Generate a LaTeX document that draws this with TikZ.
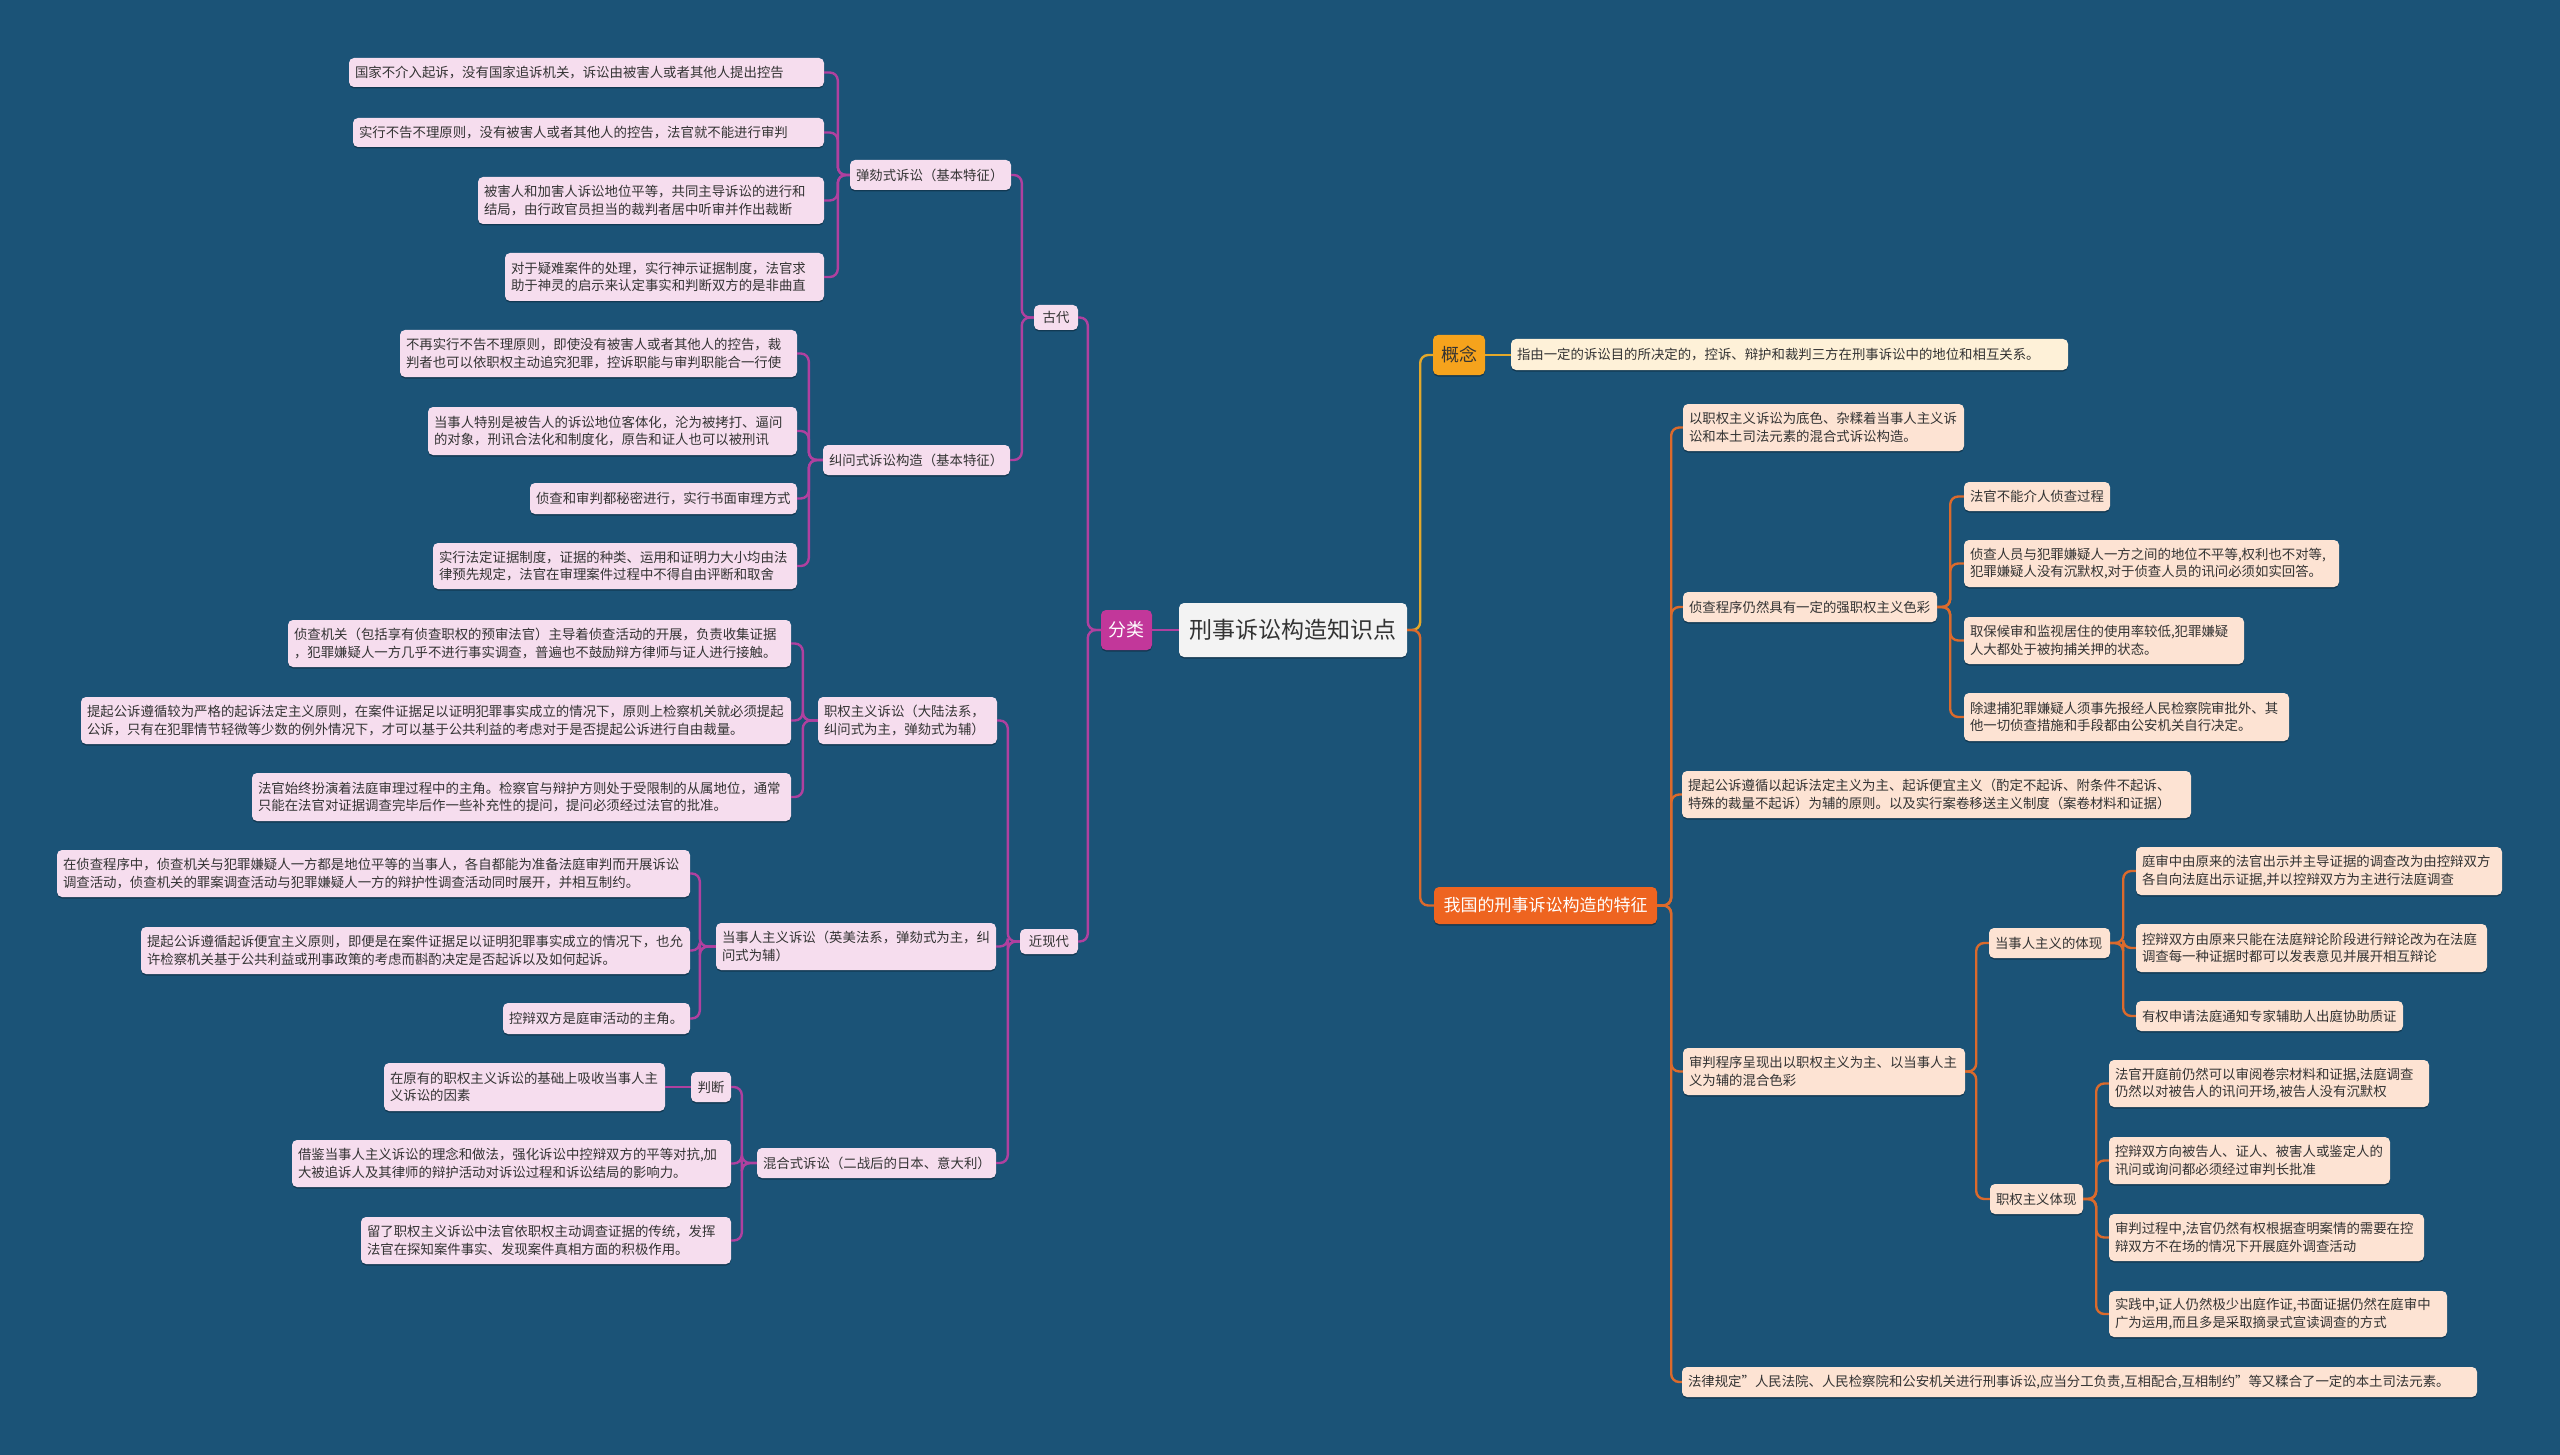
\documentclass[tikz,border=0pt]{standalone}
\usepackage{fontspec}
\setmainfont{Noto Sans CJK SC}
\usetikzlibrary{shadows}
\definecolor{bg}{HTML}{1B5377}
\definecolor{pinkf}{HTML}{F6DDEE}
\definecolor{peach}{HTML}{FDE3D3}
\definecolor{cream}{HTML}{FEF1D8}
\definecolor{centf}{HTML}{F3F3F3}
\definecolor{purp}{HTML}{B0409F}
\definecolor{magf}{HTML}{C2379A}
\definecolor{oran}{HTML}{DB6A2C}
\definecolor{redf}{HTML}{EE6420}
\definecolor{goldl}{HTML}{E4A82A}
\definecolor{goldf}{HTML}{F6A31C}
\definecolor{txt}{HTML}{333333}
\newcommand\mmb[7]{%
  \pgfmathsetmacro\mmw{#4-#2}%
  \pgfmathsetmacro\mmh{#5-#3}%
  \pgfmathsetmacro\mmtw{#4-#2-12}%
  \node[#6, minimum width=\mmw pt, minimum height=\mmh pt, text width=\mmtw pt] (#1) at ({(#2+#4)/2},{(#3+#5)/2}) {#7};}
\newcommand\lk[4]{\draw[#1] (#2.west) -- ++(-#3,0) |- (#4.east);}
\newcommand\rk[4]{\draw[#1] (#2.east) -- ++(#3,0) |- (#4.west);}
\tikzset{
  base/.style={rounded corners=5pt, inner xsep=6pt, inner ysep=1pt, text=txt, align=left,
    font=\fontsize{13.4}{17.5}\selectfont,
    drop shadow={shadow xshift=0pt, shadow yshift=-1.5pt, opacity=.3, fill=black}},
  pk/.style={base, fill=pinkf},
  pc/.style={base, fill=peach},
  cr/.style={base, fill=cream},
  pkc/.style={pk, align=center},
  pcc/.style={pc, align=center},
  clk/.style={draw=purp, line width=2.4pt, rounded corners=8pt},
  crk/.style={draw=oran, line width=2.4pt, rounded corners=8pt},
  cgk/.style={draw=goldl, line width=2.4pt, rounded corners=8pt},
}
\begin{document}
\begin{tikzpicture}[x=1pt,y=-1pt]
\fill[bg] (0,0) rectangle (2560,1455);
\useasboundingbox (0,0) rectangle (2560,1455);
% ---- left side ----
\mmb{A1}{349}{58}{824}{87}{pk}{国家不介入起诉，没有国家追诉机关，诉讼由被害人或者其他人提出控告}
\mmb{A2}{353}{118}{824}{147}{pk}{实行不告不理原则，没有被害人或者其他人的控告，法官就不能进行审判}
\mmb{A3}{478}{177}{824}{224}{pk}{被害人和加害人诉讼地位平等，共同主导诉讼的进行和\\结局，由行政官员担当的裁判者居中听审并作出裁断}
\mmb{A4}{505}{253}{824}{301}{pk}{对于疑难案件的处理，实行神示证据制度，法官求\\助于神灵的启示来认定事实和判断双方的是非曲直}
\mmb{B1}{850}{160}{1011}{190}{pk}{弹劾式诉讼（基本特征）}
\mmb{C1}{400}{330}{797}{377}{pk}{不再实行不告不理原则，即使没有被害人或者其他人的控告，裁\\判者也可以依职权主动追究犯罪，控诉职能与审判职能合一行使}
\mmb{C2}{428}{407}{797}{455}{pk}{当事人特别是被告人的诉讼地位客体化，沦为被拷打、逼问\\的对象，刑讯合法化和制度化，原告和证人也可以被刑讯}
\mmb{C3}{530}{483}{797}{514}{pk}{侦查和审判都秘密进行，实行书面审理方式}
\mmb{C4}{433}{543}{797}{589}{pk}{实行法定证据制度，证据的种类、运用和证明力大小均由法\\律预先规定，法官在审理案件过程中不得自由评断和取舍}
\mmb{B2}{823}{445}{1010}{475}{pk}{纠问式诉讼构造（基本特征）}
\mmb{gd}{1034}{305}{1078}{330}{pkc}{古代}
\mmb{D1}{288}{620}{791}{667}{pk}{侦查机关（包括享有侦查职权的预审法官）主导着侦查活动的开展，负责收集证据\\，犯罪嫌疑人一方几乎不进行事实调查，普遍也不鼓励辩方律师与证人进行接触。}
\mmb{D2}{81}{697}{791}{744}{pk}{提起公诉遵循较为严格的起诉法定主义原则，在案件证据足以证明犯罪事实成立的情况下，原则上检察机关就必须提起\\公诉，只有在犯罪情节轻微等少数的例外情况下，才可以基于公共利益的考虑对于是否提起公诉进行自由裁量。}
\mmb{D3}{252}{773}{791}{821}{pk}{法官始终扮演着法庭审理过程中的主角。检察官与辩护方则处于受限制的从属地位，通常\\只能在法官对证据调查完毕后作一些补充性的提问，提问必须经过法官的批准。}
\mmb{B3}{818}{697}{997}{744}{pk}{职权主义诉讼（大陆法系，\\纠问式为主，弹劾式为辅）}
\mmb{E1}{57}{850}{690}{897}{pk}{在侦查程序中，侦查机关与犯罪嫌疑人一方都是地位平等的当事人，各自都能为准备法庭审判而开展诉讼\\调查活动，侦查机关的罪案调查活动与犯罪嫌疑人一方的辩护性调查活动同时展开，并相互制约。}
\mmb{E2}{141}{927}{690}{974}{pk}{提起公诉遵循起诉便宜主义原则，即便是在案件证据足以证明犯罪事实成立的情况下，也允\\许检察机关基于公共利益或刑事政策的考虑而斟酌决定是否起诉以及如何起诉。}
\mmb{E3}{503}{1003}{690}{1034}{pk}{控辩双方是庭审活动的主角。}
\mmb{B4}{716}{923}{996}{970}{pk}{当事人主义诉讼（英美法系，弹劾式为主，纠\\问式为辅）}
\mmb{F1}{384}{1063}{665}{1111}{pk}{在原有的职权主义诉讼的基础上吸收当事人主\\义诉讼的因素}
\mmb{pd}{691}{1072}{731}{1102}{pkc}{判断}
\mmb{F2}{292}{1140}{731}{1187}{pk}{借鉴当事人主义诉讼的理念和做法，强化诉讼中控辩双方的平等对抗,加\\大被追诉人及其律师的辩护活动对诉讼过程和诉讼结局的影响力。}
\mmb{F3}{361}{1217}{731}{1264}{pk}{留了职权主义诉讼中法官依职权主动调查证据的传统，发挥\\法官在探知案件事实、发现案件真相方面的积极作用。}
\mmb{B5}{757}{1148}{996}{1178}{pk}{混合式诉讼（二战后的日本、意大利）}
\mmb{jxd}{1020}{929}{1078}{954}{pkc}{近现代}
\mmb{fl}{1101}{610}{1152}{650}{base, fill=magf, text=white, align=center, font=\fontsize{18}{22}\selectfont}{分类}
\mmb{ct}{1179}{603}{1407}{657}{base, fill=centf, align=center, font=\fontsize{23}{28}\selectfont}{刑事诉讼构造知识点}
% ---- right side ----
\mmb{gn}{1433}{335}{1485}{375}{base, fill=goldf, align=center, font=\fontsize{18}{22}\selectfont}{概念}
\mmb{gnd}{1511}{339}{2068}{370}{cr}{指由一定的诉讼目的所决定的，控诉、辩护和裁判三方在刑事诉讼中的地位和相互关系。}
\mmb{tz}{1434}{887}{1657}{924}{base, fill=redf, text=white, align=center, font=\fontsize{17}{21}\selectfont}{我国的刑事诉讼构造的特征}
\mmb{R1}{1683}{404}{1964}{451}{pc}{以职权主义诉讼为底色、杂糅着当事人主义诉\\讼和本土司法元素的混合式诉讼构造。}
\mmb{R2}{1683}{592}{1937}{622}{pc}{侦查程序仍然具有一定的强职权主义色彩}
\mmb{G1}{1964}{482}{2110}{511}{pc}{法官不能介人侦查过程}
\mmb{G2}{1964}{540}{2339}{587}{pc}{侦查人员与犯罪嫌疑人一方之间的地位不平等,权利也不对等,\\犯罪嫌疑人没有沉默权,对于侦查人员的讯问必须如实回答。}
\mmb{G3}{1964}{617}{2244}{664}{pc}{取保候审和监视居住的使用率较低,犯罪嫌疑\\人大都处于被拘捕关押的状态。}
\mmb{G4}{1964}{693}{2289}{741}{pc}{除逮捕犯罪嫌疑人须事先报经人民检察院审批外、其\\他一切侦查措施和手段都由公安机关自行决定。}
\mmb{R3}{1682}{771}{2191}{818}{pc}{提起公诉遵循以起诉法定主义为主、起诉便宜主义（酌定不起诉、附条件不起诉、\\特殊的裁量不起诉）为辅的原则。以及实行案卷移送主义制度（案卷材料和证据）}
\mmb{R4}{1683}{1048}{1965}{1095}{pc}{审判程序呈现出以职权主义为主、以当事人主\\义为辅的混合色彩}
\mmb{H}{1989}{928}{2110}{958}{pc}{当事人主义的体现}
\mmb{H1}{2136}{847}{2502}{895}{pc}{庭审中由原来的法官出示并主导证据的调查改为由控辩双方\\各自向法庭出示证据,并以控辩双方为主进行法庭调查}
\mmb{H2}{2136}{924}{2487}{972}{pc}{控辩双方由原来只能在法庭辩论阶段进行辩论改为在法庭\\调查每一种证据时都可以发表意见并展开相互辩论}
\mmb{H3}{2136}{1001}{2403}{1031}{pc}{有权申请法庭通知专家辅助人出庭协助质证}
\mmb{I}{1990}{1184}{2083}{1214}{pc}{职权主义体现}
\mmb{I1}{2109}{1060}{2429}{1107}{pc}{法官开庭前仍然可以审阅卷宗材料和证据,法庭调查\\仍然以对被告人的讯问开场,被告人没有沉默权}
\mmb{I2}{2109}{1137}{2390}{1184}{pc}{控辩双方向被告人、证人、被害人或鉴定人的\\讯问或询问都必须经过审判长批准}
\mmb{I3}{2109}{1214}{2424}{1261}{pc}{审判过程中,法官仍然有权根据查明案情的需要在控\\辩双方不在场的情况下开展庭外调查活动}
\mmb{I4}{2109}{1291}{2447}{1337}{pc}{实践中,证人仍然极少出庭作证,书面证据仍然在庭审中\\广为运用,而且多是采取摘录式宣读调查的方式}
\mmb{R5}{1682}{1367}{2477}{1397}{pc}{法律规定"人民法院、人民检察院和公安机关进行刑事诉讼,应当分工负责,互相配合,互相制约"等又糅合了一定的本土司法元素。}
% ---- connectors left ----
\draw[clk] (fl.east) -- (ct.west);
\lk{clk}{fl}{13}{gd}
\lk{clk}{fl}{13}{jxd}
\lk{clk}{gd}{12}{B1}
\lk{clk}{gd}{12}{B2}
\lk{clk}{jxd}{12}{B3}
\lk{clk}{jxd}{12}{B4}
\lk{clk}{jxd}{12}{B5}
\lk{clk}{B1}{12}{A1}
\lk{clk}{B1}{12}{A2}
\lk{clk}{B1}{12}{A3}
\lk{clk}{B1}{12}{A4}
\lk{clk}{B2}{14}{C1}
\lk{clk}{B2}{14}{C2}
\lk{clk}{B2}{14}{C3}
\lk{clk}{B2}{14}{C4}
\lk{clk}{B3}{15}{D1}
\lk{clk}{B3}{15}{D2}
\lk{clk}{B3}{15}{D3}
\lk{clk}{B4}{16}{E1}
\lk{clk}{B4}{16}{E2}
\lk{clk}{B4}{16}{E3}
\lk{clk}{B5}{15}{pd}
\lk{clk}{B5}{15}{F2}
\lk{clk}{B5}{15}{F3}
\draw[clk] (pd.west) -- (pd.west -| F1.east);
% ---- connectors right ----
\rk{cgk}{ct}{13}{gn}
\rk{crk}{ct}{13}{tz}
\draw[cgk] (gn.east) -- (gn.east -| gnd.west);
\rk{crk}{tz}{14}{R1}
\rk{crk}{tz}{14}{R2}
\rk{crk}{tz}{14}{R3}
\rk{crk}{tz}{14}{R4}
\rk{crk}{tz}{14}{R5}
\rk{crk}{R2}{13}{G1}
\rk{crk}{R2}{13}{G2}
\rk{crk}{R2}{13}{G3}
\rk{crk}{R2}{13}{G4}
\rk{crk}{R4}{11}{H}
\rk{crk}{R4}{11}{I}
\rk{crk}{H}{13}{H1}
\rk{crk}{H}{13}{H2}
\rk{crk}{H}{13}{H3}
\rk{crk}{I}{13}{I1}
\rk{crk}{I}{13}{I2}
\rk{crk}{I}{13}{I3}
\rk{crk}{I}{13}{I4}
\end{tikzpicture}
\end{document}
